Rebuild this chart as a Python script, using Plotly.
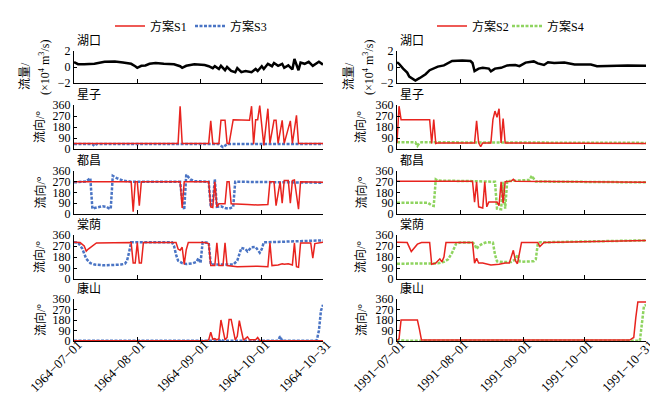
import pandas as pd
import plotly.graph_objects as go

# ---------------- data (day offset from period start, value) ----------------
START_L = "1964-07-01"
START_R = "1991-07-01"
TICK_DAYS = [0, 31, 62, 92, 122]
TICK_TEXT_L = ["1964−07−01", "1964−08−01", "1964−09−01", "1964−10−01", "1964−10−31"]
TICK_TEXT_R = ["1991−07−01", "1991−08−01", "1991−09−01", "1991−10−01", "1991−10−31"]
STATIONS = ["湖口", "星子", "都昌", "棠荫", "康山"]

# 湖口 flow (10^4 m3/s)
HK_L_day = [0, 2, 5, 10, 15, 20, 24, 28, 30, 31, 33, 35, 37, 40, 44, 49, 52, 53, 55, 59, 64, 66, 68, 69,
            71, 72, 74, 75, 77, 79, 80, 82, 84, 87, 89, 90, 92, 93, 95, 97, 98, 100, 102, 103, 105, 107,
            108, 109, 110, 111, 113, 115, 117, 120, 122]
HK_L_val = [0.6, 0.35, 0.35, 0.4, 0.65, 0.7, 0.55, 0.4, 0.1, -0.1, 0.15, 0.2, 0.4, 0.5, 0.4, 0.35, 0.1, -0.1,
            0.15, 0.35, 0.25, 0.1, -0.15, 0.1, -0.25, 0.15, -0.4, 0.0, -0.5, -0.65, -0.15, -0.65, -0.5, -0.65,
            -0.25, -0.5, 0.1, -0.25, 0.4, 0.1, 0.5, 0.15, 0.4, -0.1, 0.2, -0.3, 1.0, 0.4, -0.4, 0.55, 0.4,
            0.65, 0.15, 0.65, 0.3]
HK_R_day = [0, 1, 3, 5, 6, 8, 9, 11, 14, 16, 18, 20, 23, 25, 27, 32, 36, 37, 38, 40, 42, 45, 46, 48, 51,
            54, 58, 60, 63, 67, 69, 72, 74, 77, 82, 87, 95, 98, 105, 113, 122]
HK_R_val = [0.6, 0.4, -0.2, -0.7, -1.2, -1.6, -1.7, -1.4, -0.9, -0.4, -0.2, 0.05, 0.2, 0.5, 0.75, 0.8, 0.75,
            0.5, -0.5, -0.2, -0.1, -0.2, -0.55, -0.2, -0.1, 0.2, 0.25, 0.1, 0.55, 0.7, 0.45, 0.25, 0.6, 0.5,
            0.55, 0.3, 0.3, 0.1, 0.15, 0.2, 0.15]

# 星子 direction (deg)
XZ_S1_day = [0, 51, 52, 53, 66, 67, 68, 71, 72, 74, 75, 76, 78, 86, 87, 88, 89, 90, 91, 93, 95, 96, 98, 99,
             100, 102, 103, 106, 107, 109, 110, 122]
XZ_S1_val = [46, 46, 350, 46, 46, 230, 46, 46, 235, 235, 46, 46, 240, 235, 350, 40, 240, 240, 355, 30, 330, 46,
             235, 235, 46, 235, 46, 230, 46, 275, 46, 46]
XZ_S3_day = [0, 9, 10, 11, 71, 73, 75, 122]
XZ_S3_val = [40, 40, 25, 40, 40, 15, 40, 40]
XZ_S2_day = [0, 1, 2, 16, 17, 18, 19, 20, 38, 39, 40, 41, 42, 46, 47, 48, 49, 50, 51, 52, 53, 122]
XZ_S2_val = [50, 350, 240, 240, 45, 240, 45, 50, 50, 230, 50, 20, 50, 50, 240, 310, 260, 330, 50, 250, 50, 45]
XZ_S4_day = [0, 9, 10, 11, 12, 122]
XZ_S4_val = [55, 55, 25, 50, 55, 50]

# 都昌 direction (deg)
DC_S1_day = [0, 28, 29, 30, 31, 32, 33, 52, 53, 54, 66, 67, 68, 69, 70, 71, 74, 75, 76, 77, 85, 90, 95, 96,
             98, 99, 101, 102, 103, 105, 106, 107, 108, 110, 111, 122]
DC_S1_val = [270, 270, 20, 270, 270, 70, 270, 270, 50, 270, 270, 60, 55, 270, 60, 85, 85, 270, 270, 85, 80, 75,
             80, 270, 270, 70, 270, 90, 280, 280, 90, 280, 285, 40, 270, 265]
DC_S3_day = [0, 6, 8, 9, 10, 12, 14, 16, 17, 18, 19, 21, 24, 28, 52, 53, 54, 55, 57, 59, 66, 67, 68, 69, 70,
             72, 74, 76, 77, 78, 79, 100, 122]
DC_S3_val = [265, 272, 300, 45, 50, 55, 65, 60, 48, 45, 320, 300, 280, 270, 270, 120, 35, 330, 290, 275, 270,
             60, 100, 290, 60, 65, 50, 45, 55, 60, 270, 268, 262]
DC_S2_day = [0, 37, 38, 39, 40, 42, 43, 44, 45, 49, 50, 51, 52, 53, 56, 57, 58, 122]
DC_S2_val = [275, 275, 100, 270, 60, 50, 270, 60, 100, 100, 70, 270, 90, 270, 275, 290, 275, 265]
DC_S4_day = [0, 15, 17, 18, 19, 20, 37, 45, 48, 49, 50, 51, 52, 53, 54, 60, 65, 66, 67, 68, 122]
DC_S4_val = [95, 95, 72, 68, 290, 280, 275, 275, 270, 45, 40, 40, 270, 45, 275, 280, 285, 320, 300, 272, 265]

# 棠荫 direction (deg)
TY_S1_day = [0, 3, 5, 6, 7, 9, 11, 28, 29, 30, 31, 32, 33, 34, 50, 51, 52, 53, 54, 55, 56, 64, 66, 67, 69,
             70, 71, 73, 74, 75, 80, 90, 95, 96, 97, 100, 102, 103, 105, 107, 108, 109, 110, 111, 116, 117,
             118, 122]
TY_S1_val = [300, 298, 270, 228, 245, 270, 295, 298, 130, 130, 298, 130, 130, 298, 298, 245, 235, 260, 120,
             240, 298, 298, 290, 110, 110, 295, 110, 110, 295, 110, 100, 105, 100, 295, 110, 115, 125, 120,
             125, 115, 295, 100, 95, 295, 295, 170, 290, 300]
TY_S3_day = [0, 2, 4, 6, 8, 10, 15, 20, 23, 25, 26, 27, 28, 48, 49, 50, 51, 53, 55, 58, 60, 61, 62, 63, 66,
             67, 75, 78, 80, 81, 82, 84, 85, 87, 89, 91, 92, 93, 100, 122]
TY_S3_val = [300, 298, 250, 165, 130, 118, 112, 112, 118, 125, 150, 220, 300, 300, 270, 200, 150, 130, 122,
             128, 140, 170, 130, 300, 298, 120, 115, 118, 150, 200, 255, 245, 225, 260, 262, 215, 245, 300,
             305, 316]
TY_S2_day = [0, 5, 7, 9, 10, 12, 16, 17, 19, 21, 22, 23, 24, 37, 38, 39, 40, 42, 46, 50, 53, 55, 57, 58, 59,
             61, 69, 70, 72, 122]
TY_S2_val = [300, 298, 225, 265, 285, 298, 298, 120, 130, 165, 140, 180, 298, 298, 130, 170, 130, 130, 115,
             120, 130, 130, 235, 150, 125, 298, 298, 265, 298, 316]
TY_S4_day = [0, 17, 20, 23, 25, 27, 29, 31, 37, 38, 39, 40, 42, 44, 47, 48, 49, 52, 56, 58, 59, 60, 62, 67,
             68, 69, 70, 122]
TY_S4_val = [125, 125, 128, 140, 160, 215, 290, 298, 298, 285, 245, 270, 290, 302, 298, 200, 145, 138, 140,
             160, 200, 145, 142, 145, 160, 290, 300, 316]

# 康山 direction (deg)
KS_S1_day = [0, 65, 66, 67, 68, 69, 70, 71, 72, 73, 74, 75, 76, 77, 78, 79, 80, 81, 82, 83, 84, 85, 86, 89,
             90, 91, 122]
KS_S1_val = [3, 3, 10, 75, 15, 20, 10, 20, 180, 100, 10, 30, 185, 185, 100, 10, 40, 175, 90, 10, 20, 35, 10,
             10, 30, 5, 3]
KS_S3_day = [0, 71, 72, 73, 100, 101, 102, 118, 119, 120, 121, 122]
KS_S3_val = [2, 2, 15, 2, 2, 40, 2, 2, 10, 90, 260, 310]
KS_S2_day = [0, 1, 2, 10, 11, 12, 114, 116, 117, 118, 122]
KS_S2_val = [5, 20, 180, 180, 100, 8, 8, 30, 200, 335, 335]
KS_S4_day = [0, 1, 3, 5, 119, 120, 121, 122]
KS_S4_val = [2, 10, 5, 2, 2, 150, 300, 310]

# ---------------- figure ----------------
W, H = 658, 394
FONT = "Liberation Serif, Times New Roman, Noto Sans CJK SC, serif"
RED = "#e8231e"
BLUE = "#4a74c4"
GREEN = "#8fd460"

COL_PX = [(66, 315), (389, 638)]
ROW_PX = [(43, 75), (97, 141), (163, 206), (227, 271), (291, 333)]


def dates(start, days):
    return pd.to_datetime(start) + pd.to_timedelta(days, unit="D")


fig = go.Figure()

left_dir = [(XZ_S1_day, XZ_S1_val, XZ_S3_day, XZ_S3_val),
            (DC_S1_day, DC_S1_val, DC_S3_day, DC_S3_val),
            (TY_S1_day, TY_S1_val, TY_S3_day, TY_S3_val),
            (KS_S1_day, KS_S1_val, KS_S3_day, KS_S3_val)]
right_dir = [(XZ_S2_day, XZ_S2_val, XZ_S4_day, XZ_S4_val),
             (DC_S2_day, DC_S2_val, DC_S4_day, DC_S4_val),
             (TY_S2_day, TY_S2_val, TY_S4_day, TY_S4_val),
             (KS_S2_day, KS_S2_val, KS_S4_day, KS_S4_val)]


def ax(k):
    return ("x" if k == 1 else f"x{k}"), ("y" if k == 1 else f"y{k}")


layout_axes = {}
for r in range(5):
    for c in range(2):
        k = r * 2 + c + 1
        xn, yn = ax(k)
        start = START_L if c == 0 else START_R
        ttext = TICK_TEXT_L if c == 0 else TICK_TEXT_R
        x0, x1 = COL_PX[c]
        y0, y1 = ROW_PX[r]
        layout_axes["xaxis" if k == 1 else f"xaxis{k}"] = dict(
            domain=[x0 / W, x1 / W], anchor=yn, type="date",
            range=[dates(start, 0), dates(start, 122)],
            tickvals=list(dates(start, TICK_DAYS)), ticktext=ttext,
            ticks="inside", ticklen=4, tickcolor="black", tickwidth=1,
            showline=True, linecolor="black", linewidth=1,
            showgrid=False, zeroline=False, showticklabels=(r == 4),
            tickangle=-45, tickfont=dict(size=13, family=FONT, color="black"),
            ticklabelstandoff=-10, ticklabelshift=4,
            automargin=False)
        if r == 0:
            yr, tv, tt = [-2, 2], [-2, 0, 2], ["−2", "0", "2"]
        else:
            yr, tv, tt = [0, 360], [0, 90, 180, 270, 360], ["0", "90", "180", "270", "360"]
        layout_axes["yaxis" if k == 1 else f"yaxis{k}"] = dict(
            domain=[1 - y1 / H, 1 - y0 / H], anchor=xn, range=yr,
            tickvals=tv, ticktext=tt, ticks="inside", ticklen=3, tickcolor="black",
            showline=True, linecolor="black", linewidth=1,
            showgrid=False, zeroline=False,
            tickfont=dict(size=12, family=FONT, color="black"), automargin=False)

        # traces
        if r == 0:
            dd, vv = (HK_L_day, HK_L_val) if c == 0 else (HK_R_day, HK_R_val)
            fig.add_trace(go.Scatter(x=dates(start, dd), y=vv, mode="lines", xaxis=xn, yaxis=yn,
                                     line=dict(color="black", width=2.5), showlegend=False))
        else:
            if c == 0:
                d1, v1, d2, v2 = left_dir[r - 1]
                n1, n2, col2, leg1, leg2 = "方案S1", "方案S3", BLUE, "legend", "legend2"
            else:
                d1, v1, d2, v2 = right_dir[r - 1]
                n1, n2, col2, leg1, leg2 = "方案S2", "方案S4", GREEN, "legend3", "legend4"
            fig.add_trace(go.Scatter(x=dates(start, d2), y=v2, mode="lines", xaxis=xn, yaxis=yn,
                                     name=n2, legend=leg2, showlegend=(r == 1),
                                     line=dict(color=col2, width=2.5, dash="3px,1.5px")))
            fig.add_trace(go.Scatter(x=dates(start, d1), y=v1, mode="lines", xaxis=xn, yaxis=yn,
                                     name=n1, legend=leg1, showlegend=(r == 1),
                                     line=dict(color=RED, width=1.5)))

annotations = []
for r in range(5):
    for c in range(2):
        x0, x1 = COL_PX[c]
        y0, y1 = ROW_PX[r]
        annotations.append(dict(text=STATIONS[r], xref="paper", yref="paper",
                                x=(x0 + 1) / W, y=1 - (y0 - 1) / H, xanchor="left", yanchor="bottom",
                                showarrow=False, font=dict(size=12, family=FONT, color="black")))
        if r > 0:
            tx = 32 if c == 0 else 353
            annotations.append(dict(text="流向/°", xref="paper", yref="paper", textangle=-90,
                                    x=tx / W, y=1 - (y0 + y1) / 2 / H, xanchor="center", yanchor="middle",
                                    showarrow=False, font=dict(size=12, family=FONT, color="black")))
        else:
            ta = 17 if c == 0 else 341
            tb = 36 if c == 0 else 360
            annotations.append(dict(text="流量/", xref="paper", yref="paper", textangle=-90,
                                    x=ta / W, y=1 - 68 / H, xanchor="center", yanchor="middle",
                                    showarrow=False, font=dict(size=12, family=FONT, color="black")))
            annotations.append(dict(text="(×10<sup>4</sup> m<sup>3</sup>/s)", xref="paper", yref="paper",
                                    textangle=-90, x=tb / W, y=1 - 60 / H, xanchor="center", yanchor="middle",
                                    showarrow=False, font=dict(size=12, family=FONT, color="black")))


def leg(xpx):
    return dict(orientation="h", x=xpx / W, y=1 - 18 / H, xanchor="left", yanchor="middle",
                bgcolor="rgba(0,0,0,0)", font=dict(size=12, family=FONT))


fig.update_layout(
    width=W, height=H, autosize=False,
    margin=dict(l=0, r=0, t=0, b=0),
    paper_bgcolor="white", plot_bgcolor="white",
    font=dict(family=FONT, size=12, color="black"),
    annotations=annotations,
    legend=leg(102), legend2=leg(182), legend3=leg(424), legend4=leg(499),
    **layout_axes,
)

fig.write_html("out.html")
